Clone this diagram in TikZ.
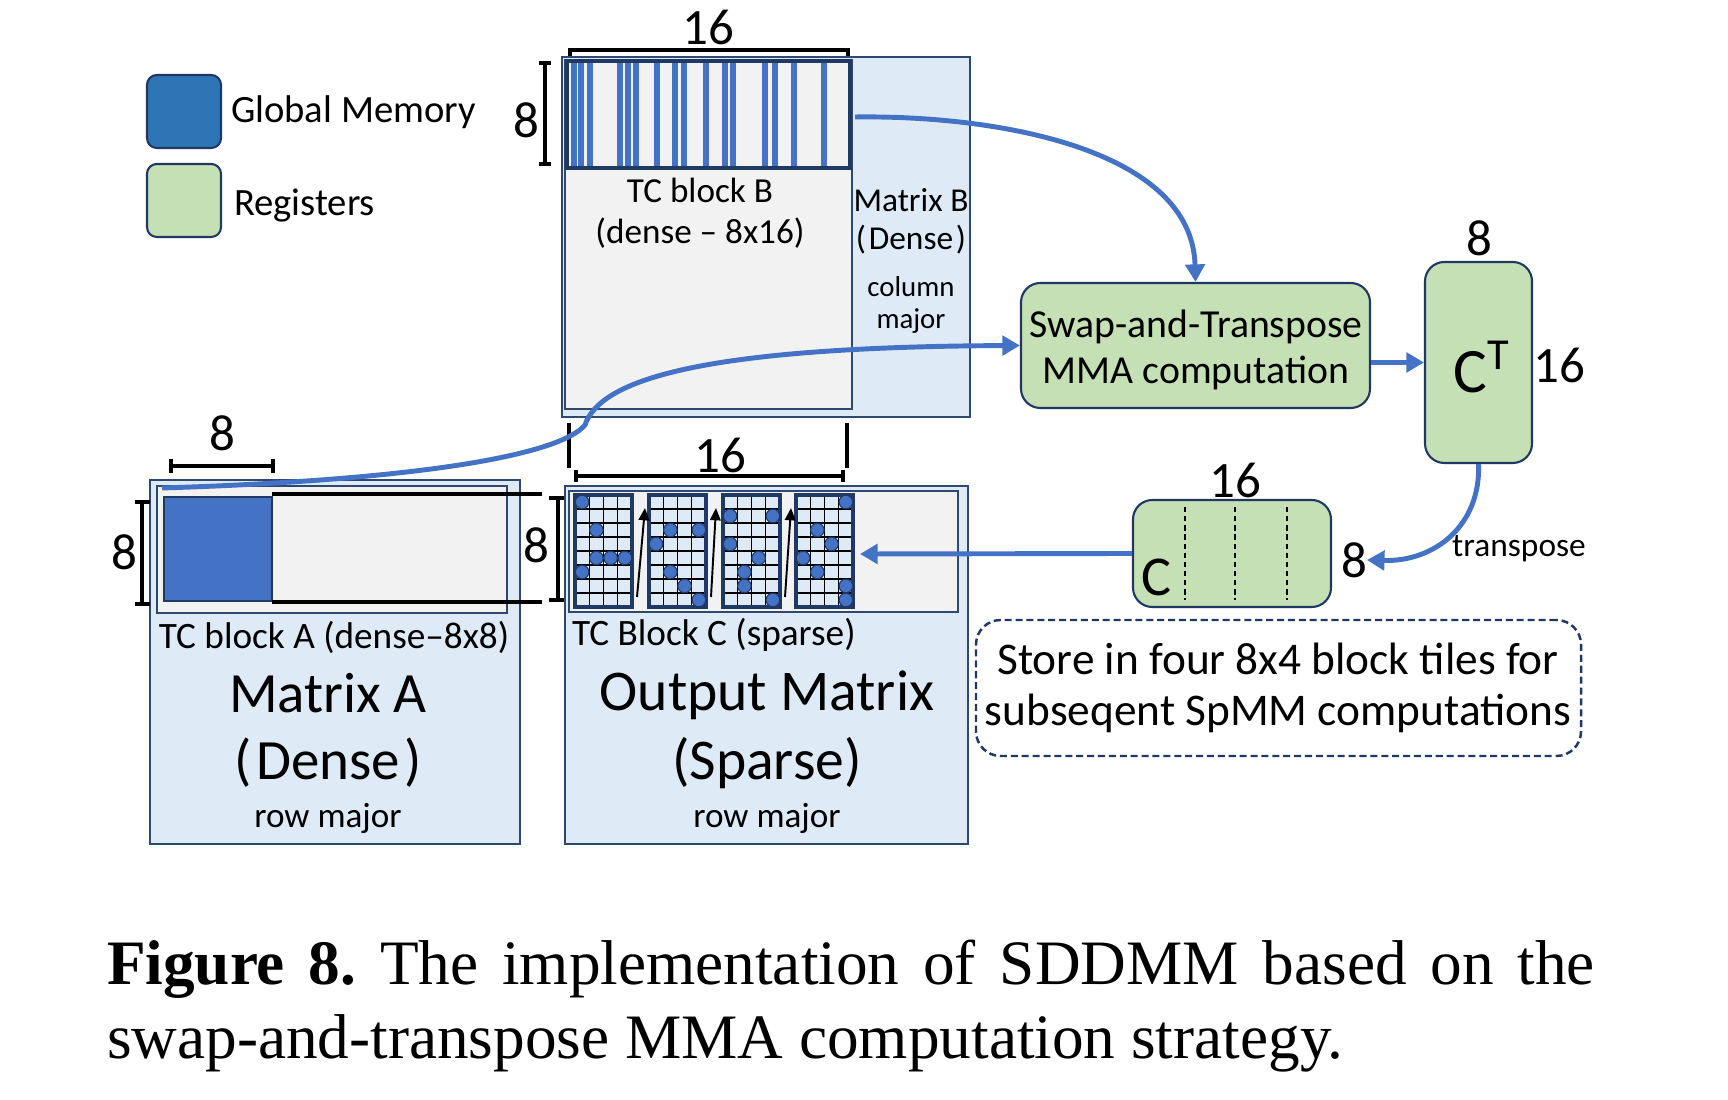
\documentclass[tikz,border=0pt]{standalone}
\usepackage{fontspec}
\setmainfont{Carlito}
\newfontfamily\capfont{Liberation Serif}
\usetikzlibrary{arrows.meta,fit,calc}
\definecolor{lblue}{RGB}{222,235,247}
\definecolor{lgray}{RGB}{242,242,242}
\definecolor{mblue}{RGB}{68,114,196}
\definecolor{gblue}{RGB}{46,117,182}
\definecolor{lgreen}{RGB}{197,224,180}
\definecolor{dline}{RGB}{47,72,112}
\definecolor{dnavy}{RGB}{31,56,100}
\newcommand\fsz[2]{\fontsize{#1}{#2}\selectfont}
\tikzset{
  mat/.style={draw=dline, fill=lblue, line width=0.5pt, inner sep=0},
  grayb/.style={draw=dline, fill=lgray, line width=0.5pt, inner sep=0},
  legendbox/.style={draw=dnavy, line width=0.6pt, rounded corners=2.8pt, inner sep=0},
  reg/.style={draw=dnavy, fill=lgreen, line width=0.6pt, rounded corners=5.5pt, inner sep=0},
  barrow/.style={draw=mblue, line width=1.4pt, -{Triangle[length=5pt,width=5.5pt]}},
  tarrow/.style={draw=black, line width=0.55pt, -{Triangle[length=3.5pt,width=3pt]}},
  brk/.style={draw=black, line width=0.9pt},
  txt/.style={inner sep=0, outer sep=0},
  gridl/.style={draw=black, line width=0.4pt},
  tileb/.style={draw=dnavy, line width=0.9pt, inner sep=0},
  dotc/.style={fill=mblue, draw=dnavy, line width=0.3pt},
}
\begin{document}
\begin{tikzpicture}[x=0.1mm,y=-0.1mm]
\useasboundingbox[fill=white] (0,0) rectangle (1728,1100);

% ---------------- Legend
\node[legendbox, fill=gblue, fit={(147,75) (221,148)}] (lgm) {};
\node[txt, anchor=west, font=\fsz{11}{13}] (lgmt) at (231,112) {Global Memory};
\node[legendbox, fill=lgreen, fit={(147,164) (221,237)}] (lreg) {};
\node[txt, anchor=west, font=\fsz{11}{13}] (lregt) at (234,206) {Registers};

% ---------------- Matrix B
\node[mat, fit={(562,57) (970,417)}] (matB) {};
\node[grayb, fit={(565,60) (852,409)}] (grayB) {};
\fill[lgray] (567,61) rectangle (850,168);
\foreach \s in {574,581,590,620,628,636,657,675,684,706,725,733,765,775,794,824}
  \fill[mblue] (\s-3,62) rectangle (\s+3,167);
\node[draw=dnavy, line width=1.1pt, inner sep=0, fit={(567,61) (850,168)}] (tcB) {};
\node[txt, font=\fsz{10}{12}] (tcBt1) at (700,190) {TC block B};
\node[txt, font=\fsz{10}{12}] (tcBt2) at (700,233) {(dense -- 8x16)};
\node[txt, font=\fsz{9.5}{11}] (matBt1) at (911,200) {Matrix B};
\node[txt, font=\fsz{9.5}{11}] (matBt2) at (911,240) {(\kern0.8pt Dense\kern0.8pt)};
\node[txt, font=\fsz{8.2}{10}] (matBt3) at (911,287) {column};
\node[txt, font=\fsz{8.2}{10}] (matBt4) at (911,321) {major};
% bracket 16 top
\draw[brk] (570,56) -- (570,50) -- (848,50) -- (848,56);
\node[txt, font=\fsz{14.5}{16}] (n16B) at (708,27) {16};
% bracket 8 left
\draw[brk] (539,63) -- (551,63) (545,63) -- (545,164) (539,164) -- (551,164);
\node[txt, font=\fsz{14.5}{16}] (n8B) at (526,120) {8};
% extension lines
\draw[brk] (569,423) -- (569,468);
\draw[brk] (847,423) -- (847,468);

% ---------------- Matrix A
\node[mat, fit={(150,480) (520,844)}] (matA) {};
\node[grayb, fit={(157,486) (507,613)}] (grayA) {};
\node[draw=dnavy, fill=mblue, line width=0.7pt, inner sep=0, fit={(164,497) (272,601)}] (tcA) {};
\draw[brk] (272,494) -- (542,494);
\draw[brk] (272,602) -- (542,602);
\draw[brk] (171,459) -- (171,473) (171,466) -- (273,466) (273,459) -- (273,473);
\node[txt, font=\fsz{14.5}{16}] (n8Atop) at (222,433) {8};
\draw[brk] (135,502) -- (150,502) (142,502) -- (142,604) (135,604) -- (150,604);
\node[txt, font=\fsz{14.5}{16}] (n8Aleft) at (124,552) {8};
\draw[brk] (549,498) -- (564,498) (558,498) -- (558,600) (549,600) -- (564,600);
\node[txt, font=\fsz{14.5}{16}] (n8Aright) at (536,545) {8};
\node[txt, font=\fsz{10.6}{12}] (tcAt) at (334,637) {TC block A (dense--8x8)};
\node[txt, font=\fsz{16.2}{18}] (matAt1) at (328,693) {Matrix A};
\node[txt, font=\fsz{16.2}{18}] (matAt2) at (328,763) {(\kern1.3pt Dense\kern1.3pt)};
\node[txt, font=\fsz{10}{12}] (matAt3) at (328,818) {row major};

% ---------------- Output matrix
\node[mat, fit={(565,486) (968,844)}] (matO) {};
\node[grayb, fit={(569,491) (958,612)}] (grayO) {};
\foreach \tx/\nm in {575/1,649/2,723/3,796/4}{
  \fill[lblue] (\tx,495) rectangle (\tx+57,607);
  \foreach \k in {1,2,3} \draw[gridl] (\tx+\k*14.25,495) -- (\tx+\k*14.25,607);
  \foreach \k in {1,...,7} \draw[gridl] (\tx,495+\k*14) -- (\tx+57,495+\k*14);
  \node[tileb, fit={(\tx,495) (\tx+57,607)}] (tile\nm) {};
}
\foreach \tx/\c/\r in {575/0/0,575/1/2,575/1/4,575/2/4,575/3/4,575/0/5,
  649/1/2,649/3/2,649/0/3,649/1/5,649/2/6,649/3/7,
  723/0/1,723/3/1,723/0/3,723/2/4,723/1/5,723/1/6,723/3/7,
  796/3/0,796/1/2,796/2/3,796/0/4,796/1/5,796/3/6,796/3/7}
  \path[dotc] (\tx+\c*14.25+7.125,495+\r*14+7) circle[radius=0.68mm];
\coordinate (ta1s) at (637,597); \coordinate (ta1e) at (645,508);
\coordinate (ta2s) at (711,597); \coordinate (ta2e) at (716,508);
\coordinate (ta3s) at (785,597); \coordinate (ta3e) at (791,508);
\draw[tarrow] (ta1s) -- (ta1e);
\draw[tarrow] (ta2s) -- (ta2e);
\draw[tarrow] (ta3s) -- (ta3e);
\draw[brk] (576,470) -- (576,482) (576,476) -- (843,476) (843,470) -- (843,482);
\node[txt, font=\fsz{14.5}{16}] (n16O) at (720,455) {16};
\node[txt, anchor=west, font=\fsz{10.6}{12}] (tcCt) at (572,635) {TC Block C (sparse)};
\node[txt, font=\fsz{16.4}{18}] (matOt1) at (767,695) {Output Matrix};
\node[txt, font=\fsz{16.4}{18}] (matOt2) at (767,763) {(Sparse)};
\node[txt, font=\fsz{10}{12}] (matOt3) at (767,818) {row major};

% ---------------- Registers side
\node[reg, fit={(1021,283) (1370,408)}] (swap) {};
\node[txt, font=\fsz{11.3}{13}] (swapt1) at (1196,327) {Swap-and-Transpose};
\node[txt, font=\fsz{11.3}{13}] (swapt2) at (1196,373) {MMA computation};

\node[reg, fit={(1425,262) (1532,463)}] (ct) {};
\node[txt, font=\fsz{18}{20}] (ctt) at (1482,367) {C\textsuperscript{T}};
\node[txt, font=\fsz{14.5}{16}] (n8ct) at (1479,238) {8};
\node[txt, font=\fsz{14.5}{16}] (n16ct) at (1559,365) {16};

\node[reg, fit={(1133,500) (1331,607)}] (cbox) {};
\foreach \dx in {1185,1235,1287}
  \draw[black, line width=0.7pt, dash pattern=on 1.5pt off 1.1pt] (\dx,507) -- (\dx,600);
\node[txt, font=\fsz{16}{18}] (cboxt) at (1156,577) {C};
\node[txt, font=\fsz{14.5}{16}] (n16c) at (1235,480) {16};
\node[txt, font=\fsz{14.5}{16}] (n8c) at (1354,560) {8};
\node[txt, font=\fsz{9.5}{11}] (transp) at (1519,549) {transpose};

\node[draw=dnavy, line width=0.7pt, dash pattern=on 2pt off 1.1pt, rounded corners=7pt, inner sep=0, fit={(976,620) (1581,756)}] (store) {};
\node[txt, font=\fsz{12.9}{14}] (storet1) at (1278,659) {Store in four 8x4 block tiles for};
\node[txt, font=\fsz{12.9}{14}] (storet2) at (1278,713) {subseqent SpMM computations};

% ---------------- Connectors
\coordinate (aStart) at (162,488);
\coordinate (aMid) at (585,425);
\coordinate (bStart) at (855,117);
\coordinate (outArr) at (860,554);
\draw[barrow] (aStart) .. controls (420,480) and (560,455) .. (aMid)
  .. controls (600,380) and (700,347) .. (swap.west);
\draw[barrow] (bStart) .. controls (1000,115) and (1192,150) .. (swap.north);
\draw[barrow] (swap.east |- ct) -- (ct);
\draw[barrow] (ct.south) .. controls (1481,525) and (1435,562) .. (n8c.east);
\draw[barrow] (cbox.west) -- (outArr);

% ---------------- Caption
\node[txt, anchor=base west, font=\capfont\fsz{18}{22}] (cap1) at (107,984)
  {\frenchspacing\hbox to 148.8mm{\textbf{Figure 8.} The implementation of SDDMM based on the}};
\node[txt, anchor=base west, font=\capfont\fsz{18}{22}] (cap2) at (107,1058)
  {swap-and-transpose MMA computation strategy.};
\end{tikzpicture}
\end{document}
